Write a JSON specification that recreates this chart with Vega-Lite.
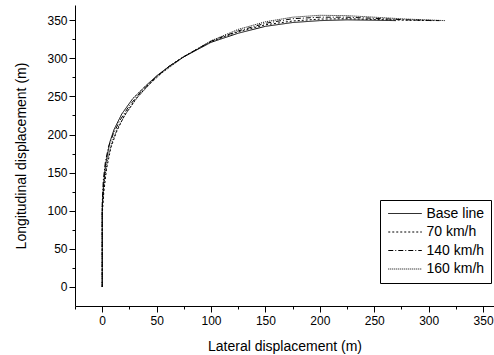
{
  "$schema": "https://vega.github.io/schema/vega-lite/v6.json",
  "width": 419,
  "height": 301,
  "autosize": "none",
  "padding": {"left": 75, "top": 5, "right": 0, "bottom": 49},
  "background": "white",
  "config": {
    "font": "Liberation Sans",
    "view": {"stroke": null},
    "axis": {"grid": false, "domainColor": "black", "domainWidth": 1, "tickColor": "black", "labelColor": "black", "titleColor": "black", "labelFontSize": 12, "titleFontSize": 14, "titleFontWeight": "normal", "labelFont": "Liberation Sans", "titleFont": "Liberation Sans"}
  },
  "data": {"values": [
    {"s": "Base line", "i": 0, "x": 0, "y": 0},
    {"s": "Base line", "i": 1, "x": 0, "y": 100},
    {"s": "Base line", "i": 2, "x": 1, "y": 130},
    {"s": "Base line", "i": 3, "x": 3, "y": 160},
    {"s": "Base line", "i": 4, "x": 7, "y": 190},
    {"s": "Base line", "i": 5, "x": 11, "y": 207},
    {"s": "Base line", "i": 6, "x": 18, "y": 227},
    {"s": "Base line", "i": 7, "x": 28, "y": 247},
    {"s": "Base line", "i": 8, "x": 40, "y": 264},
    {"s": "Base line", "i": 9, "x": 50, "y": 277},
    {"s": "Base line", "i": 10, "x": 62, "y": 290},
    {"s": "Base line", "i": 11, "x": 75, "y": 302},
    {"s": "Base line", "i": 12, "x": 100, "y": 321},
    {"s": "Base line", "i": 13, "x": 125, "y": 333},
    {"s": "Base line", "i": 14, "x": 150, "y": 342},
    {"s": "Base line", "i": 15, "x": 175, "y": 347},
    {"s": "Base line", "i": 16, "x": 200, "y": 349.5},
    {"s": "Base line", "i": 17, "x": 225, "y": 350.5},
    {"s": "Base line", "i": 18, "x": 250, "y": 350},
    {"s": "Base line", "i": 19, "x": 270, "y": 349.5},
    {"s": "70 km/h", "i": 0, "x": 0, "y": 0},
    {"s": "70 km/h", "i": 1, "x": 0, "y": 95},
    {"s": "70 km/h", "i": 2, "x": 1.5, "y": 125},
    {"s": "70 km/h", "i": 3, "x": 4, "y": 155},
    {"s": "70 km/h", "i": 4, "x": 8, "y": 183},
    {"s": "70 km/h", "i": 5, "x": 13, "y": 203},
    {"s": "70 km/h", "i": 6, "x": 20, "y": 224},
    {"s": "70 km/h", "i": 7, "x": 30, "y": 245},
    {"s": "70 km/h", "i": 8, "x": 41, "y": 263},
    {"s": "70 km/h", "i": 9, "x": 50, "y": 276},
    {"s": "70 km/h", "i": 10, "x": 62, "y": 290},
    {"s": "70 km/h", "i": 11, "x": 75, "y": 302.5},
    {"s": "70 km/h", "i": 12, "x": 100, "y": 322},
    {"s": "70 km/h", "i": 13, "x": 125, "y": 335},
    {"s": "70 km/h", "i": 14, "x": 150, "y": 344},
    {"s": "70 km/h", "i": 15, "x": 175, "y": 349},
    {"s": "70 km/h", "i": 16, "x": 200, "y": 351.5},
    {"s": "70 km/h", "i": 17, "x": 225, "y": 352},
    {"s": "70 km/h", "i": 18, "x": 250, "y": 351},
    {"s": "70 km/h", "i": 19, "x": 280, "y": 350},
    {"s": "70 km/h", "i": 20, "x": 305, "y": 349.5},
    {"s": "140 km/h", "i": 0, "x": 0, "y": 0},
    {"s": "140 km/h", "i": 1, "x": 0, "y": 110},
    {"s": "140 km/h", "i": 2, "x": 1, "y": 140},
    {"s": "140 km/h", "i": 3, "x": 3, "y": 165},
    {"s": "140 km/h", "i": 4, "x": 6, "y": 185},
    {"s": "140 km/h", "i": 5, "x": 10, "y": 200},
    {"s": "140 km/h", "i": 6, "x": 16, "y": 218},
    {"s": "140 km/h", "i": 7, "x": 25, "y": 238},
    {"s": "140 km/h", "i": 8, "x": 36, "y": 257},
    {"s": "140 km/h", "i": 9, "x": 50, "y": 276},
    {"s": "140 km/h", "i": 10, "x": 62, "y": 290},
    {"s": "140 km/h", "i": 11, "x": 75, "y": 302},
    {"s": "140 km/h", "i": 12, "x": 100, "y": 322.5},
    {"s": "140 km/h", "i": 13, "x": 125, "y": 336},
    {"s": "140 km/h", "i": 14, "x": 150, "y": 346},
    {"s": "140 km/h", "i": 15, "x": 175, "y": 352},
    {"s": "140 km/h", "i": 16, "x": 200, "y": 354},
    {"s": "140 km/h", "i": 17, "x": 225, "y": 354},
    {"s": "140 km/h", "i": 18, "x": 250, "y": 352.5},
    {"s": "140 km/h", "i": 19, "x": 280, "y": 350.5},
    {"s": "140 km/h", "i": 20, "x": 310, "y": 349.5},
    {"s": "160 km/h", "i": 0, "x": 0, "y": 0},
    {"s": "160 km/h", "i": 1, "x": 0, "y": 105},
    {"s": "160 km/h", "i": 2, "x": 2, "y": 140},
    {"s": "160 km/h", "i": 3, "x": 5, "y": 168},
    {"s": "160 km/h", "i": 4, "x": 9, "y": 190},
    {"s": "160 km/h", "i": 5, "x": 14, "y": 208},
    {"s": "160 km/h", "i": 6, "x": 22, "y": 228},
    {"s": "160 km/h", "i": 7, "x": 33, "y": 250},
    {"s": "160 km/h", "i": 8, "x": 45, "y": 268},
    {"s": "160 km/h", "i": 9, "x": 55, "y": 281},
    {"s": "160 km/h", "i": 10, "x": 75, "y": 302},
    {"s": "160 km/h", "i": 11, "x": 100, "y": 323},
    {"s": "160 km/h", "i": 12, "x": 125, "y": 338},
    {"s": "160 km/h", "i": 13, "x": 150, "y": 348},
    {"s": "160 km/h", "i": 14, "x": 175, "y": 354},
    {"s": "160 km/h", "i": 15, "x": 200, "y": 356.5},
    {"s": "160 km/h", "i": 16, "x": 225, "y": 356},
    {"s": "160 km/h", "i": 17, "x": 250, "y": 354},
    {"s": "160 km/h", "i": 18, "x": 280, "y": 351.5},
    {"s": "160 km/h", "i": 19, "x": 315, "y": 349.5}
  ]},
  "mark": {"type": "line", "color": "black", "strokeWidth": 1, "clip": true},
  "encoding": {
    "x": {
      "field": "x", "type": "quantitative",
      "scale": {"domain": [-25, 360], "nice": false, "zero": false},
      "axis": {
        "title": "Lateral displacement (m)",
        "values": [-25, 0, 25, 50, 75, 100, 125, 150, 175, 200, 225, 250, 275, 300, 325, 350],
        "labelExpr": "datum.value % 50 === 0 ? datum.label : ''",
        "tickSize": {"condition": {"test": "datum.value % 50 === 0", "value": 6}, "value": 3},
        "labelPadding": 3,
        "titlePadding": 13
      }
    },
    "y": {
      "field": "y", "type": "quantitative",
      "scale": {"domain": [-25, 370], "nice": false, "zero": false},
      "axis": {
        "title": "Longitudinal displacement (m)",
        "values": [0, 25, 50, 75, 100, 125, 150, 175, 200, 225, 250, 275, 300, 325, 350],
        "labelExpr": "datum.value % 50 === 0 ? datum.label : ''",
        "tickSize": {"condition": {"test": "datum.value % 50 === 0", "value": 6}, "value": 3},
        "labelPadding": 2,
        "titlePadding": 18
      }
    },
    "strokeDash": {
      "field": "s", "type": "nominal",
      "scale": {"domain": ["Base line", "70 km/h", "140 km/h", "160 km/h"], "range": [[1, 0], [2, 2], [5, 2, 1, 2], [1, 1]]},
      "legend": {
        "title": null,
        "orient": "none",
        "legendX": 305,
        "legendY": 195,
        "fillColor": "white",
        "strokeColor": "black",
        "padding": 6.5,
        "symbolType": "M-1,0H5.4",
        "symbolSize": 110,
        "symbolStrokeColor": "black",
        "symbolStrokeWidth": 1,
        "labelFontSize": 14,
        "labelColor": "black",
        "labelOffset": 26,
        "rowPadding": 4.5
      }
    },
    "order": {"field": "i", "type": "quantitative"}
  }
}
